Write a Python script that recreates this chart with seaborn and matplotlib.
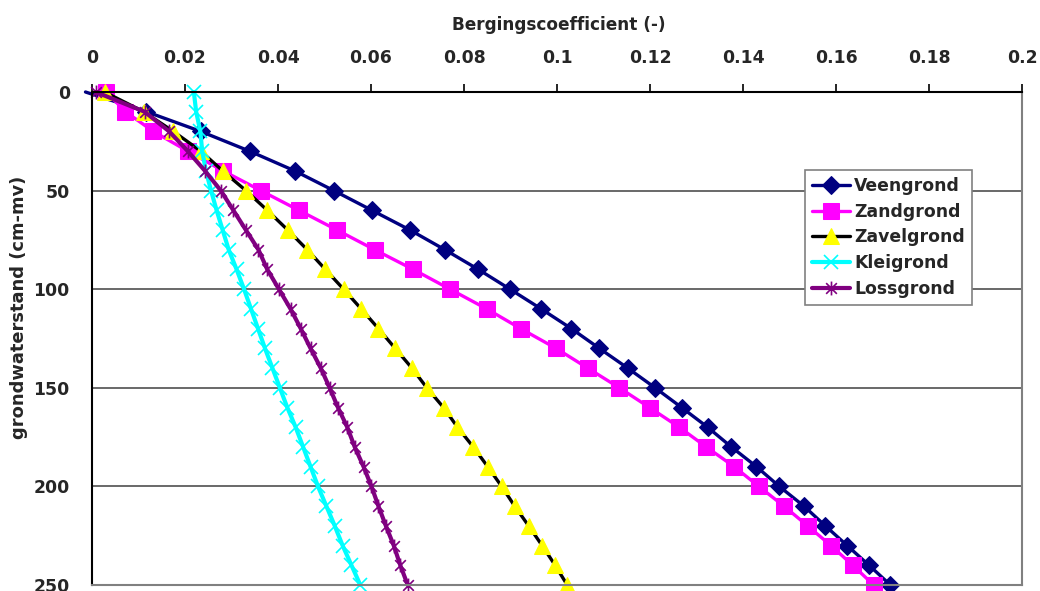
import numpy as np
import pandas as pd
import matplotlib
matplotlib.use("Agg")
import matplotlib.pyplot as plt
from matplotlib.path import Path
import seaborn as sns

# depth below surface (cm-mv), one point every 10 cm
depth = [0, 10, 20, 30, 40, 50, 60, 70, 80, 90, 100, 110, 120,
         130, 140, 150, 160, 170, 180, 190, 200, 210, 220, 230, 240, 250]

veengrond = [-0.0014, 0.0117, 0.0234, 0.0339, 0.0436, 0.0520, 0.0602, 0.0684,
             0.0759, 0.0831, 0.0899, 0.0966, 0.1031, 0.1091, 0.1152, 0.1211,
             0.1268, 0.1324, 0.1375, 0.1429, 0.1478, 0.1531, 0.1577, 0.1624,
             0.1671, 0.1717]
zandgrond = [0.0031, 0.0072, 0.0132, 0.0206, 0.0282, 0.0363, 0.0445, 0.0527,
             0.0608, 0.0691, 0.0770, 0.0849, 0.0922, 0.0998, 0.1066, 0.1134,
             0.1199, 0.1263, 0.1321, 0.1381, 0.1434, 0.1488, 0.1539, 0.1589,
             0.1636, 0.1681]
zavelgrond = [0.0027, 0.0111, 0.0175, 0.0234, 0.0281, 0.0331, 0.0377, 0.0421,
              0.0463, 0.0502, 0.0541, 0.0579, 0.0616, 0.0652, 0.0688, 0.0720,
              0.0756, 0.0786, 0.0820, 0.0851, 0.0881, 0.0909, 0.0939, 0.0968,
              0.0996, 0.1022]
kleigrond = [0.0219, 0.0224, 0.0233, 0.0237, 0.0245, 0.0256, 0.0268, 0.0281,
             0.0294, 0.0311, 0.0327, 0.0342, 0.0357, 0.0372, 0.0388, 0.0404,
             0.0420, 0.0438, 0.0454, 0.0470, 0.0486, 0.0504, 0.0522, 0.0539,
             0.0558, 0.0577]
lossgrond = [0.0008, 0.0113, 0.0166, 0.0206, 0.0243, 0.0277, 0.0304, 0.0331,
             0.0358, 0.0377, 0.0402, 0.0427, 0.0449, 0.0470, 0.0492, 0.0511,
             0.0529, 0.0549, 0.0565, 0.0584, 0.0601, 0.0616, 0.0632, 0.0649,
             0.0663, 0.0679]

x_ticks = [0, 0.02, 0.04, 0.06, 0.08, 0.1, 0.12, 0.14, 0.16, 0.18, 0.2]
y_ticks = [0, 50, 100, 150, 200, 250]

sns.set_theme(style="white")
plt.rcParams['font.family'] = ['DejaVu Sans']
plt.rcParams['font.weight'] = 'bold'

# Excel style asterisk: an x with a vertical bar through it
star = Path([(-1, -1), (1, 1), (-1, 1), (1, -1), (0, -1.3), (0, 1.3)],
            [Path.MOVETO, Path.LINETO, Path.MOVETO, Path.LINETO, Path.MOVETO, Path.LINETO])

series = [
    ("Veengrond", veengrond, dict(color="#000080", marker="D", ms=9.5, mfc="#000080", mec="#000080",
                                  lw=2.4, markevery=list(range(1, len(depth))))),
    ("Zandgrond", zandgrond, dict(color="#FF00FF", marker="s", ms=11, mfc="#FF00FF", mec="#FF00FF", lw=2.4)),
    ("Zavelgrond", zavelgrond, dict(color="black", marker="^", ms=11.5, mfc="#FFFF00", mec="#FFFF00", lw=2.4)),
    ("Kleigrond", kleigrond, dict(color="#00FFFF", marker="x", ms=10, mfc="#00FFFF", mec="#00FFFF", mew=1.2, lw=3)),
    ("Lossgrond", lossgrond, dict(color="#800080", marker=star, ms=10, mfc="#800080", mec="#800080", mew=1.2, lw=3)),
]

fig = plt.figure(figsize=(10.4, 5.91), dpi=100)
ax = fig.add_axes([92 / 1040, 1 - 585 / 591, 930 / 1040, 493 / 591])

for name, vals, style in series:
    sns.lineplot(x=vals, y=depth, sort=False, estimator=None, ax=ax,
                 label=name, clip_on=False, **style)

ax.set_xlim(0, 0.2)
ax.set_ylim(250, 0)
ax.set_xticks(x_ticks)
ax.set_xticklabels([f"{v:g}" for v in x_ticks])
ax.set_yticks(y_ticks)
ax.xaxis.tick_top()
ax.tick_params(axis="both", labelsize=12.4, direction="out", length=6, width=1.2,
               color="black", pad=10)
ax.tick_params(axis="x", pad=12)
for lab in ax.get_xticklabels() + ax.get_yticklabels():
    lab.set_fontweight("bold")
ax.set_xlabel("")
ax.set_ylabel("")

fig.text(559 / 1040, 1 - 25 / 591, "Bergingscoefficient (-)", fontsize=12.2,
         fontweight="bold", ha="center", va="center")
fig.text(19 / 1040, 1 - 307 / 591, "grondwaterstand (cm-mv)", fontsize=12.9,
         fontweight="bold", ha="center", va="center", rotation=90)

# horizontal gridlines only
for yv in y_ticks[1:-1]:
    ax.axhline(yv, color="#404040", lw=1.1, zorder=0)

ax.spines["top"].set_color("black")
ax.spines["left"].set_color("black")
ax.spines["right"].set_color("#808080")
ax.spines["bottom"].set_color("#808080")
for s in ax.spines.values():
    s.set_linewidth(1.5)

leg = ax.legend(loc="upper left", bbox_to_anchor=(805 / 1040, 1 - 170 / 591),
                bbox_transform=fig.transFigure, frameon=True, fancybox=False,
                borderaxespad=0, handlelength=2.2, handletextpad=0.25,
                labelspacing=0.45, borderpad=0.4,
                prop={"size": 12.4, "weight": "bold"})
leg.get_frame().set_edgecolor("#808080")
leg.get_frame().set_linewidth(1.2)
leg.get_frame().set_alpha(1)

fig.savefig("out.png", dpi=100)
